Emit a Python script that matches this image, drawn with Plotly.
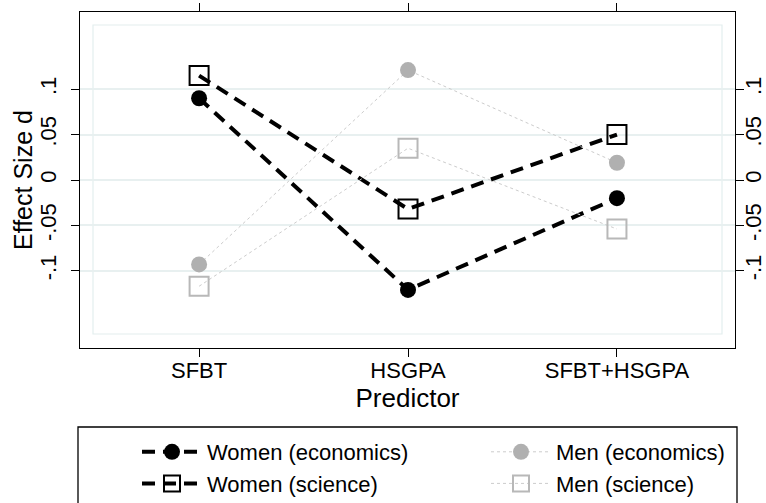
import plotly.graph_objects as go

predictors = ["SFBT", "HSGPA", "SFBT+HSGPA"]
xpos = [1, 2, 3]
women_econ = [0.090, -0.121, -0.020]
women_sci = [0.115, -0.032, 0.050]
men_econ = [-0.093, 0.121, 0.019]
men_sci = [-0.117, 0.035, -0.054]

ytick_vals = [-0.1, -0.05, 0, 0.05, 0.1]
ytick_text = ["-.1", "-.05", "0", ".05", ".1"]

FONT = "Liberation Sans, Arial, sans-serif"
DASH = "13px,8px"
PW, PH = 655, 336  # plot area size in px
fig = go.Figure()

fig.add_trace(go.Scatter(x=xpos, y=women_econ, name="Women (economics)", mode="lines+markers",
                         line=dict(color="black", width=4, dash=DASH), legend="legend",
                         marker=dict(symbol="circle", size=16, color="black")))
fig.add_trace(go.Scatter(x=xpos, y=women_sci, name="Women (science)", mode="lines+markers",
                         line=dict(color="black", width=4, dash=DASH), legend="legend",
                         marker=dict(symbol="square-open", size=19, color="black", line=dict(width=2))))
fig.add_trace(go.Scatter(x=xpos, y=men_econ, name="Men (economics)", mode="lines+markers",
                         line=dict(color="#cccccc", width=1, dash="dot"), legend="legend2",
                         marker=dict(symbol="circle", size=16, color="#b0b0b0")))
fig.add_trace(go.Scatter(x=xpos, y=men_sci, name="Men (science)", mode="lines+markers",
                         line=dict(color="#cccccc", width=1, dash="dot"), legend="legend2",
                         marker=dict(symbol="square-open", size=19, color="#b8b8b8", line=dict(width=2))))
fig.add_trace(go.Scatter(x=[None], y=[None], yaxis="y2", showlegend=False, hoverinfo="skip"))

# inner plot-region box
fig.add_shape(type="rect", xref="paper", yref="paper", x0=13/PW, x1=642/PW, y0=14/PH, y1=323/PH,
              line=dict(color="#e3eeee", width=1.2), layer="below")
# legend frame
fig.add_shape(type="rect", xref="paper", yref="paper", x0=-2/PW, x1=657/PW, y0=-160/PH, y1=-79/PH,
              line=dict(color="black", width=1.3))

# y-axis title
fig.add_annotation(text="Effect Size d", xref="paper", yref="paper", x=-57/PW, y=0.5,
                   textangle=-90, showarrow=False, font=dict(size=25), xanchor="center", yanchor="middle")

leg_common = dict(orientation="v", yanchor="top", y=-83/PH, bgcolor="rgba(0,0,0,0)", borderwidth=0,
                  itemwidth=60, font=dict(size=22), tracegroupgap=0)

fig.update_layout(
    width=766, height=503,
    margin=dict(l=80, r=31, t=12, b=155, autoexpand=False),
    paper_bgcolor="white", plot_bgcolor="white",
    font=dict(family=FONT, color="black", size=22),
    xaxis=dict(range=[0.43, 3.565], tickvals=xpos, ticktext=predictors, automargin=False,
               ticklabelstandoff=-6,
               showline=True, linecolor="black", linewidth=1.3, mirror="ticks",
               ticks="outside", ticklen=8, tickcolor="black", showgrid=False, zeroline=False,
               title=dict(text="Predictor", font=dict(size=26), standoff=0),
               tickfont=dict(size=22)),
    yaxis=dict(range=[-0.185, 0.185], tickvals=ytick_vals, ticktext=ytick_text, tickangle=-90,
               automargin=False, ticklabelstandoff=6,
               showline=True, linecolor="black", linewidth=1.3, mirror="ticks",
               ticks="outside", ticklen=8, tickcolor="black",
               showgrid=True, gridcolor="#e8f0f0", gridwidth=1.5, zeroline=False,
               tickfont=dict(size=22)),
    yaxis2=dict(range=[-0.185, 0.185], tickvals=ytick_vals, ticktext=ytick_text, tickangle=-90,
                automargin=False, ticklabelstandoff=-9,
                overlaying="y", side="right", showline=False, ticks="outside", ticklen=8,
                tickcolor="rgba(0,0,0,0)", showgrid=False, zeroline=False, tickfont=dict(size=22)),
    legend=dict(x=57/PW, xanchor="left", **leg_common),
    legend2=dict(x=406/PW, xanchor="left", **leg_common),
    showlegend=True,
)

fig.write_html("out.html", config={"displayModeBar": False},
               post_script="document.body.style.margin='0';")
